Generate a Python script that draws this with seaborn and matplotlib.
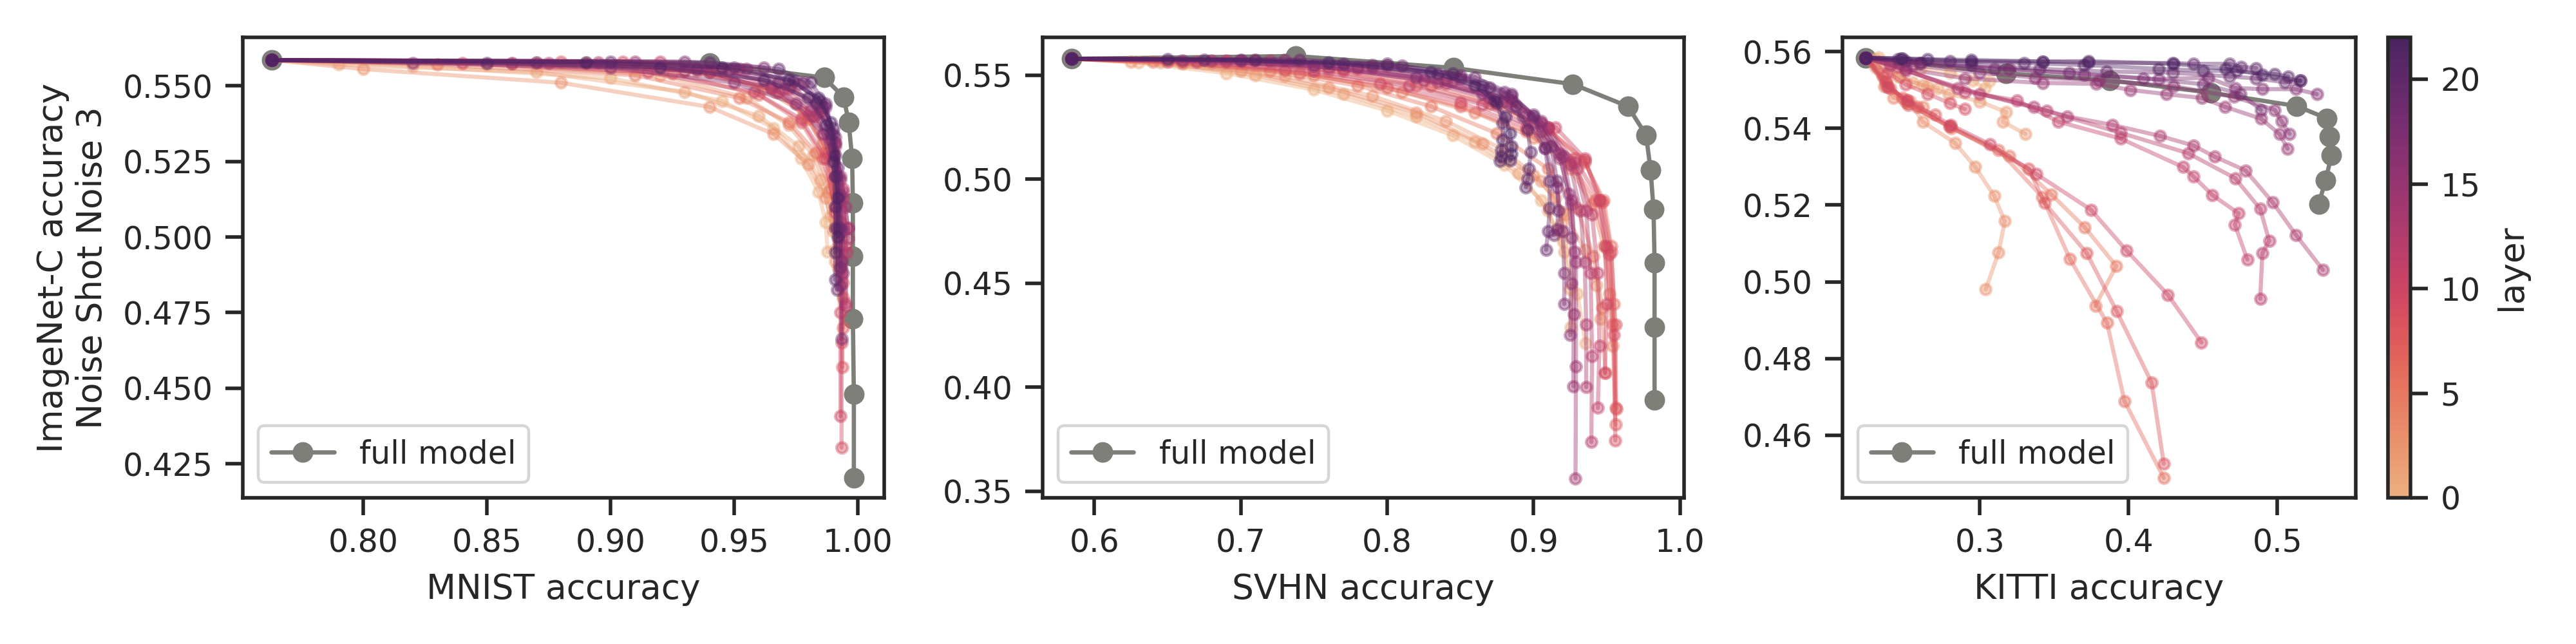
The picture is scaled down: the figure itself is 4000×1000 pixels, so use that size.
import pandas as pd
import seaborn as sns
import matplotlib.pyplot as plt
from matplotlib.ticker import MultipleLocator

# ---- full model curves ----
mnist_full_x = [0.763, 0.940, 0.9864, 0.9943, 0.9963, 0.9977, 0.998, 0.998, 0.998, 0.9984, 0.9984]
mnist_full_y = [0.5585, 0.5574, 0.5527, 0.5462, 0.538, 0.526, 0.5112, 0.4937, 0.473, 0.448, 0.4204]

svhn_full_x = [0.5846, 0.7377, 0.8454, 0.9269, 0.9645, 0.9769, 0.980, 0.982, 0.9827, 0.9827, 0.9827]
svhn_full_y = [0.5579, 0.5592, 0.5535, 0.5457, 0.535, 0.5212, 0.5044, 0.4854, 0.4597, 0.4288, 0.3940]

kitti_full_x = [0.2234, 0.3175, 0.3875, 0.4551, 0.5129, 0.533, 0.535, 0.5363, 0.5323, 0.5277]
kitti_full_y = [0.5584, 0.5543, 0.5525, 0.5493, 0.5458, 0.5426, 0.5378, 0.533, 0.5265, 0.5203]

# ---- per-layer curves: MNIST ----
mnist_layers = list(range(23))
mnist_x = [
    [0.763, 0.82, 0.90, 0.945, 0.966, 0.977, 0.984, 0.987, 0.9878],
    [0.763, 0.79, 0.87, 0.93, 0.96, 0.976, 0.985, 0.989, 0.991],
    [0.763, 0.85, 0.92, 0.955, 0.972, 0.982, 0.988, 0.991, 0.992],
    [0.763, 0.80, 0.88, 0.94, 0.966, 0.98, 0.987, 0.990, 0.991],
    [0.763, 0.87, 0.93, 0.962, 0.978, 0.986, 0.99, 0.992, 0.993],
    [0.763, 0.83, 0.91, 0.952, 0.972, 0.983, 0.989, 0.992, 0.993],
    [0.763, 0.89, 0.94, 0.967, 0.98, 0.987, 0.991, 0.993, 0.994],
    [0.763, 0.86, 0.925, 0.96, 0.977, 0.986, 0.991, 0.993, 0.994],
    [0.763, 0.88, 0.935, 0.965, 0.98, 0.988, 0.992, 0.994, 0.9937],
    [0.763, 0.905, 0.945, 0.97, 0.983, 0.99, 0.993, 0.9935, 0.9934],
    [0.763, 0.84, 0.915, 0.958, 0.977, 0.987, 0.991, 0.993, 0.993],
    [0.763, 0.92, 0.952, 0.973, 0.985, 0.991, 0.994, 0.995, 0.995],
    [0.763, 0.875, 0.94, 0.968, 0.982, 0.99, 0.994, 0.9955, 0.9951],
    [0.763, 0.895, 0.948, 0.972, 0.985, 0.991, 0.994, 0.996, 0.996],
    [0.763, 0.86, 0.93, 0.965, 0.981, 0.989, 0.993, 0.995, 0.996],
    [0.763, 0.91, 0.955, 0.976, 0.986, 0.991, 0.993, 0.994, 0.994],
    [0.763, 0.82, 0.90, 0.95, 0.975, 0.986, 0.991, 0.993, 0.993],
    [0.763, 0.93, 0.962, 0.978, 0.987, 0.991, 0.993, 0.9935, 0.9934],
    [0.763, 0.87, 0.935, 0.968, 0.983, 0.989, 0.992, 0.993, 0.993],
    [0.763, 0.90, 0.95, 0.974, 0.985, 0.99, 0.992, 0.992, 0.9916],
    [0.763, 0.94, 0.968, 0.981, 0.987, 0.99, 0.991, 0.991, 0.9908],
    [0.763, 0.85, 0.92, 0.962, 0.98, 0.987, 0.99, 0.991, 0.991],
    [0.763, 0.89, 0.945, 0.972, 0.984, 0.989, 0.991, 0.992, 0.992],
]
mnist_y = [
    [0.5585, 0.5565, 0.5525, 0.545, 0.536, 0.526, 0.515, 0.505, 0.4951],
    [0.5585, 0.557, 0.5545, 0.548, 0.540, 0.530, 0.519, 0.507, 0.496],
    [0.5585, 0.557, 0.5535, 0.546, 0.537, 0.527, 0.515, 0.503, 0.490],
    [0.5585, 0.5555, 0.551, 0.543, 0.534, 0.524, 0.513, 0.502, 0.492],
    [0.5585, 0.5575, 0.555, 0.549, 0.541, 0.531, 0.519, 0.506, 0.494],
    [0.5585, 0.557, 0.5535, 0.546, 0.538, 0.528, 0.516, 0.503, 0.488],
    [0.5585, 0.5575, 0.5545, 0.548, 0.539, 0.528, 0.514, 0.497, 0.480],
    [0.5585, 0.5572, 0.554, 0.547, 0.538, 0.526, 0.510, 0.490, 0.470],
    [0.5585, 0.558, 0.555, 0.549, 0.540, 0.528, 0.511, 0.485, 0.457],
    [0.5585, 0.558, 0.555, 0.549, 0.540, 0.527, 0.505, 0.465, 0.4304],
    [0.5585, 0.5575, 0.5545, 0.548, 0.539, 0.526, 0.508, 0.475, 0.4408],
    [0.5585, 0.558, 0.5555, 0.550, 0.542, 0.531, 0.516, 0.497, 0.478],
    [0.5585, 0.5575, 0.5545, 0.548, 0.540, 0.528, 0.513, 0.495, 0.4772],
    [0.5585, 0.5578, 0.555, 0.549, 0.541, 0.530, 0.515, 0.503, 0.4995],
    [0.5585, 0.5575, 0.555, 0.5495, 0.542, 0.532, 0.52, 0.51, 0.503],
    [0.5585, 0.558, 0.5555, 0.5505, 0.543, 0.533, 0.519, 0.502, 0.488],
    [0.5585, 0.5575, 0.556, 0.551, 0.544, 0.534, 0.52, 0.502, 0.484],
    [0.5585, 0.558, 0.556, 0.551, 0.543, 0.531, 0.514, 0.492, 0.4663],
    [0.5585, 0.5578, 0.5555, 0.551, 0.544, 0.534, 0.52, 0.503, 0.49],
    [0.5585, 0.558, 0.556, 0.5515, 0.545, 0.536, 0.523, 0.503, 0.4826],
    [0.5585, 0.5578, 0.5555, 0.551, 0.544, 0.534, 0.52, 0.503, 0.4859],
    [0.5585, 0.5575, 0.556, 0.552, 0.546, 0.537, 0.525, 0.51, 0.495],
    [0.5585, 0.5578, 0.556, 0.552, 0.546, 0.538, 0.527, 0.513, 0.50],
]

# ---- per-layer curves: SVHN ----
svhn_layers = list(range(23))
svhn_x = [
    [0.5846, 0.63, 0.69, 0.75, 0.80, 0.845, 0.88, 0.905, 0.92, 0.93, 0.9355],
    [0.5846, 0.645, 0.71, 0.77, 0.82, 0.86, 0.89, 0.91, 0.921, 0.925, 0.9256],
    [0.5846, 0.66, 0.73, 0.79, 0.84, 0.88, 0.905, 0.922, 0.935, 0.943, 0.9457],
    [0.5846, 0.625, 0.70, 0.76, 0.82, 0.865, 0.90, 0.915, 0.92, 0.9194, 0.919],
    [0.5846, 0.68, 0.75, 0.81, 0.86, 0.90, 0.925, 0.94, 0.948, 0.952, 0.954],
    [0.5846, 0.64, 0.72, 0.78, 0.83, 0.875, 0.91, 0.93, 0.941, 0.947, 0.949],
    [0.5846, 0.70, 0.76, 0.82, 0.87, 0.91, 0.935, 0.948, 0.953, 0.955, 0.956],
    [0.5846, 0.66, 0.74, 0.80, 0.85, 0.895, 0.925, 0.942, 0.95, 0.954, 0.956],
    [0.5846, 0.69, 0.77, 0.83, 0.875, 0.91, 0.935, 0.947, 0.953, 0.956, 0.9565],
    [0.5846, 0.65, 0.73, 0.795, 0.85, 0.895, 0.928, 0.945, 0.952, 0.955, 0.9559],
    [0.5846, 0.71, 0.78, 0.84, 0.885, 0.915, 0.935, 0.945, 0.949, 0.95, 0.9488],
    [0.5846, 0.67, 0.75, 0.815, 0.865, 0.905, 0.93, 0.94, 0.944, 0.945, 0.944],
    [0.5846, 0.69, 0.77, 0.835, 0.88, 0.91, 0.928, 0.936, 0.939, 0.94, 0.9395],
    [0.5846, 0.72, 0.79, 0.845, 0.885, 0.91, 0.925, 0.932, 0.935, 0.936, 0.936],
    [0.5846, 0.68, 0.76, 0.825, 0.87, 0.90, 0.918, 0.926, 0.929, 0.929, 0.9287],
    [0.5846, 0.70, 0.78, 0.84, 0.88, 0.905, 0.92, 0.926, 0.928, 0.9275, 0.9272],
    [0.5846, 0.73, 0.80, 0.85, 0.885, 0.905, 0.918, 0.924, 0.926, 0.926, 0.925],
    [0.5846, 0.66, 0.75, 0.82, 0.865, 0.893, 0.908, 0.916, 0.92, 0.921, 0.921],
    [0.5846, 0.70, 0.79, 0.85, 0.88, 0.90, 0.912, 0.916, 0.917, 0.916, 0.914],
    [0.5846, 0.74, 0.81, 0.86, 0.885, 0.90, 0.908, 0.911, 0.911, 0.91, 0.9086],
    [0.5846, 0.675, 0.77, 0.835, 0.87, 0.888, 0.896, 0.898, 0.897, 0.896, 0.8948],
    [0.5846, 0.71, 0.80, 0.845, 0.865, 0.875, 0.879, 0.879, 0.878, 0.878, 0.8772],
    [0.5846, 0.65, 0.76, 0.83, 0.86, 0.873, 0.881, 0.884, 0.885, 0.885, 0.884],
]
svhn_y = [
    [0.5579, 0.556, 0.551, 0.543, 0.533, 0.521, 0.507, 0.49, 0.47, 0.445, 0.421],
    [0.5579, 0.556, 0.550, 0.541, 0.530, 0.518, 0.503, 0.485, 0.465, 0.447, 0.429],
    [0.5579, 0.5555, 0.5495, 0.540, 0.528, 0.514, 0.499, 0.483, 0.466, 0.449, 0.4329],
    [0.5579, 0.5565, 0.552, 0.544, 0.532, 0.517, 0.502, 0.491, 0.484, 0.4788, 0.475],
    [0.5579, 0.556, 0.550, 0.542, 0.532, 0.52, 0.505, 0.488, 0.468, 0.445, 0.42],
    [0.5579, 0.5565, 0.552, 0.545, 0.535, 0.522, 0.505, 0.486, 0.463, 0.438, 0.407],
    [0.5579, 0.5565, 0.552, 0.545, 0.536, 0.524, 0.508, 0.49, 0.468, 0.44, 0.39],
    [0.5579, 0.556, 0.551, 0.544, 0.535, 0.523, 0.508, 0.49, 0.467, 0.43, 0.382],
    [0.5579, 0.5565, 0.552, 0.545, 0.536, 0.524, 0.509, 0.489, 0.465, 0.43, 0.3894],
    [0.5579, 0.5565, 0.5525, 0.546, 0.537, 0.525, 0.51, 0.49, 0.464, 0.425, 0.3744],
    [0.5579, 0.557, 0.553, 0.546, 0.537, 0.525, 0.51, 0.49, 0.468, 0.44, 0.4068],
    [0.5579, 0.5565, 0.552, 0.545, 0.536, 0.523, 0.505, 0.483, 0.455, 0.42, 0.39],
    [0.5579, 0.557, 0.553, 0.5465, 0.5375, 0.525, 0.508, 0.485, 0.455, 0.415, 0.3736],
    [0.5579, 0.557, 0.5535, 0.547, 0.538, 0.525, 0.507, 0.485, 0.46, 0.43, 0.40],
    [0.5579, 0.557, 0.5535, 0.5475, 0.539, 0.527, 0.51, 0.488, 0.46, 0.41, 0.3562],
    [0.5579, 0.557, 0.554, 0.548, 0.539, 0.527, 0.511, 0.49, 0.465, 0.435, 0.4005],
    [0.5579, 0.5575, 0.5545, 0.5485, 0.54, 0.528, 0.512, 0.493, 0.472, 0.45, 0.425],
    [0.5579, 0.557, 0.5545, 0.549, 0.541, 0.53, 0.515, 0.496, 0.475, 0.455, 0.44],
    [0.5579, 0.5575, 0.555, 0.55, 0.542, 0.531, 0.516, 0.499, 0.485, 0.476, 0.4732],
    [0.5579, 0.5575, 0.5545, 0.549, 0.541, 0.53, 0.515, 0.499, 0.486, 0.475, 0.4661],
    [0.5579, 0.5575, 0.5555, 0.5505, 0.544, 0.535, 0.524, 0.513, 0.505, 0.50, 0.4962],
    [0.5579, 0.5575, 0.5555, 0.551, 0.545, 0.537, 0.527, 0.519, 0.514, 0.511, 0.5089],
    [0.5579, 0.5578, 0.556, 0.5515, 0.545, 0.538, 0.53, 0.522, 0.516, 0.512, 0.509],
]

# ---- per-layer curves: KITTI ----
kitti_layers = [0, 1, 2, 3, 4, 5, 6, 7, 8, 9, 10, 11, 12, 13, 15, 16, 17, 18, 19, 20, 21, 22]
kitti_x = [
    [0.2234, 0.232, 0.245, 0.26, 0.28, 0.295, 0.3032, 0.3063],
    [0.2234, 0.23, 0.236, 0.2459, 0.255, 0.265, 0.272],
    [0.2234, 0.23, 0.2459, 0.2617, 0.279, 0.30, 0.3178, 0.3156, 0.3307],
    [0.2234, 0.238, 0.2531, 0.2617, 0.2833, 0.2968, 0.3097, 0.3168, 0.3127, 0.304],
    [0.2234, 0.2373, 0.242, 0.2505, 0.262],
    [0.2234, 0.236, 0.2515, 0.281, 0.32, 0.348, 0.3705, 0.3917, 0.3776],
    [0.2234, 0.237, 0.25, 0.28, 0.3127, 0.342, 0.3605, 0.3855, 0.3972, 0.4236],
    [0.2234, 0.235, 0.24, 0.248, 0.258, 0.27],
    [0.2234, 0.2373, 0.252, 0.2795, 0.3329, 0.3436, 0.3718, 0.392, 0.4154, 0.4236],
    [0.2234, 0.238, 0.25, 0.265, 0.28, 0.29],
    [0.2234, 0.238, 0.2515, 0.2804, 0.307, 0.3379, 0.3746, 0.3985, 0.4264, 0.4489],
    [0.2234, 0.245, 0.29, 0.3249, 0.3529, 0.3947, 0.4365, 0.4434, 0.4563, 0.4739, 0.4714, 0.4797],
    [0.2234, 0.25, 0.30, 0.345, 0.3947, 0.44, 0.4715, 0.4884, 0.4944, 0.4898, 0.4884],
    [0.2234, 0.24, 0.2854, 0.3364, 0.3587, 0.3889, 0.4211, 0.4436, 0.4578, 0.4786, 0.4968, 0.5124, 0.5305],
    [0.2234, 0.25, 0.29, 0.3423, 0.3783, 0.4011, 0.4253, 0.449, 0.4647, 0.4889, 0.5014, 0.5068],
    [0.2234, 0.255, 0.3, 0.3371, 0.38, 0.43, 0.4706, 0.4982, 0.5027, 0.5081],
    [0.2234, 0.26, 0.32, 0.37, 0.42, 0.4535, 0.4715, 0.49, 0.5124, 0.5264],
    [0.2234, 0.26, 0.31, 0.36, 0.41, 0.45, 0.475, 0.4889],
    [0.2234, 0.25, 0.2944, 0.34, 0.385, 0.4299, 0.4678, 0.4857, 0.505, 0.5152],
    [0.2234, 0.245, 0.28, 0.3423, 0.373, 0.4299, 0.4436, 0.4678, 0.4756, 0.4857],
    [0.2234, 0.248, 0.2944, 0.33, 0.37, 0.42, 0.45, 0.4727, 0.4982, 0.5071],
    [0.2234, 0.247, 0.265, 0.2944, 0.3423, 0.373, 0.43, 0.465, 0.49, 0.5152],
]
kitti_y = [
    [0.5584, 0.5585, 0.557, 0.5555, 0.5545, 0.5525, 0.5504, 0.5523],
    [0.5584, 0.558, 0.5565, 0.5535, 0.552, 0.551, 0.5505],
    [0.5584, 0.556, 0.5535, 0.5512, 0.549, 0.547, 0.5442, 0.5417, 0.5385],
    [0.5584, 0.5507, 0.5471, 0.5417, 0.5362, 0.53, 0.5224, 0.5158, 0.5077, 0.498],
    [0.5584, 0.5517, 0.548, 0.5474, 0.5455],
    [0.5584, 0.551, 0.5465, 0.540, 0.5328, 0.5228, 0.5142, 0.5041, 0.4937],
    [0.5584, 0.552, 0.547, 0.5405, 0.5343, 0.5221, 0.506, 0.4893, 0.4689, 0.4489],
    [0.5584, 0.5535, 0.5505, 0.548, 0.5455, 0.5435],
    [0.5584, 0.5523, 0.546, 0.5405, 0.5295, 0.5205, 0.5075, 0.4923, 0.4738, 0.4526],
    [0.5584, 0.5545, 0.5515, 0.549, 0.5465, 0.545],
    [0.5584, 0.5507, 0.5473, 0.5409, 0.5358, 0.5281, 0.5188, 0.5082, 0.4966, 0.4842],
    [0.5584, 0.556, 0.5495, 0.5473, 0.5417, 0.5373, 0.5299, 0.5275, 0.5226, 0.5178, 0.5149, 0.5058],
    [0.5584, 0.555, 0.549, 0.5445, 0.5388, 0.5335, 0.527, 0.519, 0.5107, 0.5074, 0.4956],
    [0.5584, 0.5565, 0.5504, 0.5456, 0.5431, 0.5409, 0.538, 0.5355, 0.5326, 0.529, 0.5207, 0.5122, 0.5031],
    [0.5584, 0.5555, 0.553, 0.5518, 0.5516, 0.55, 0.5489, 0.5479, 0.5456, 0.5425, 0.5385, 0.5347],
    [0.5584, 0.5565, 0.5545, 0.5532, 0.5525, 0.551, 0.5482, 0.5448, 0.5418, 0.5386],
    [0.5584, 0.557, 0.5555, 0.554, 0.5528, 0.5532, 0.5505, 0.5502, 0.5502, 0.5489],
    [0.5584, 0.557, 0.5555, 0.5545, 0.553, 0.5515, 0.549, 0.5448],
    [0.5584, 0.5575, 0.5565, 0.5555, 0.5548, 0.5545, 0.5535, 0.553, 0.552, 0.5524],
    [0.5584, 0.558, 0.5575, 0.5574, 0.5571, 0.557, 0.5568, 0.5568, 0.556, 0.5557],
    [0.5584, 0.5582, 0.5574, 0.557, 0.5565, 0.5555, 0.555, 0.555, 0.5541, 0.5535],
    [0.5584, 0.5582, 0.558, 0.5578, 0.5574, 0.5575, 0.5568, 0.5555, 0.554, 0.5524],
]


def to_long(layers, xs, ys):
    rows = []
    for layer, lx, ly in zip(layers, xs, ys):
        for step, (a, b) in enumerate(zip(lx, ly)):
            rows.append({"layer": layer, "step": step, "x": a, "y": b})
    return pd.DataFrame(rows)


panels = [
    ("MNIST accuracy", mnist_full_x, mnist_full_y, to_long(mnist_layers, mnist_x, mnist_y),
     (0.7512, 1.0108), (0.4138, 0.566), 0.05, 0.025, "{:.2f}", "{:.3f}"),
    ("SVHN accuracy", svhn_full_x, svhn_full_y, to_long(svhn_layers, svhn_x, svhn_y),
     (0.5645, 1.003), (0.3468, 0.5682), 0.1, 0.05, "{:.1f}", "{:.2f}"),
    ("KITTI accuracy", kitti_full_x, kitti_full_y, to_long(kitti_layers, kitti_x, kitti_y),
     (0.2076, 0.5525), (0.4437, 0.5637), 0.1, 0.02, "{:.1f}", "{:.2f}"),
]

sns.set_theme(style="ticks", context="paper")
cmap = sns.color_palette("flare", as_cmap=True)
full_color = "#7f7f7a"

fig, axes = plt.subplots(1, 3, figsize=(10, 2.5), dpi=400)
fig.subplots_adjust(left=0.0942, right=0.9643, bottom=0.227, top=0.942, wspace=0.246)

for ax, (xlabel, fx, fy, df, xlim, ylim, xstep, ystep, xfmt, yfmt) in zip(axes, panels):
    # full model first so the layer curves sit on top of its first point
    sns.lineplot(x=fx, y=fy, ax=ax, color=full_color, marker="o", markersize=5,
                 linewidth=1.2, markeredgecolor=None, sort=False, estimator=None,
                 label="full model")
    sns.lineplot(data=df, x="x", y="y", hue="layer", units="layer", estimator=None,
                 sort=False, palette=cmap, hue_norm=(0, 22), marker="o", markersize=3,
                 linewidth=1.15, alpha=0.42, markeredgecolor=None, markeredgewidth=0.8,
                 legend=False, ax=ax)
    ax.set_xlim(*xlim)
    ax.set_ylim(*ylim)
    ax.xaxis.set_major_locator(MultipleLocator(xstep))
    ax.yaxis.set_major_locator(MultipleLocator(ystep))
    ax.xaxis.set_major_formatter(plt.FuncFormatter(lambda v, p, f=xfmt: f.format(v)))
    ax.yaxis.set_major_formatter(plt.FuncFormatter(lambda v, p, f=yfmt: f.format(v)))
    ax.set_xlabel(xlabel)
    ax.set_ylabel("")
    ax.legend(loc="lower left")

axes[0].set_ylabel("ImageNet-C accuracy\nNoise Shot Noise 3")

sm = plt.cm.ScalarMappable(cmap=cmap, norm=plt.Normalize(0, 22))
sm.set_array([])
cbar = fig.colorbar(sm, ax=axes[2])
cbar.set_label("layer")
cbar.set_ticks([0, 5, 10, 15, 20])

fig.savefig("out.png", dpi=400)
